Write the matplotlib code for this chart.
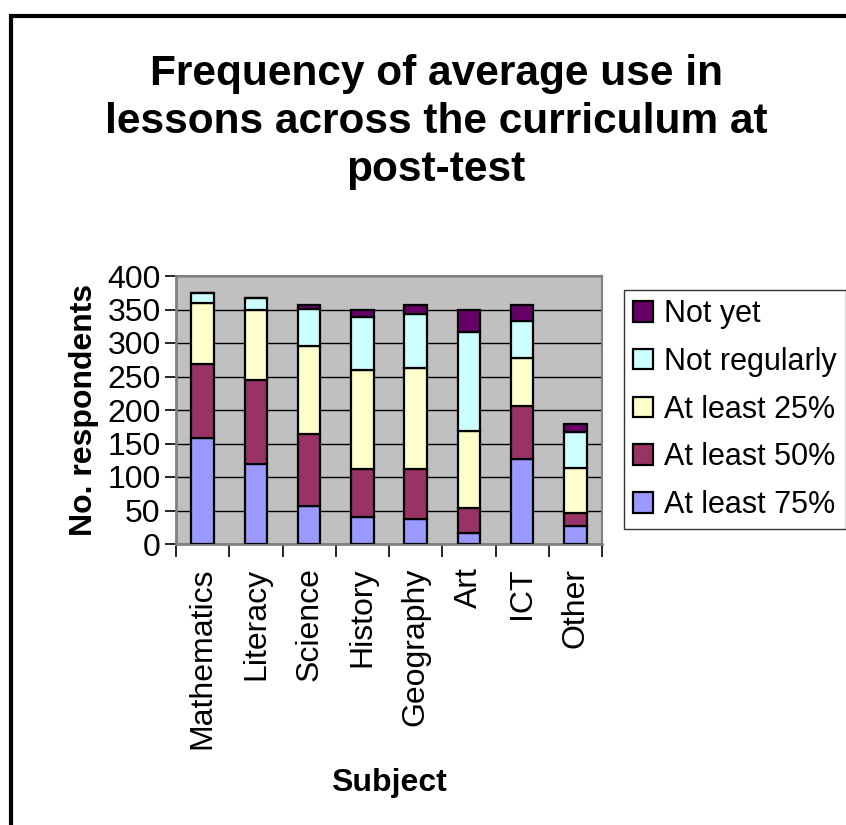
import numpy as np
import matplotlib
matplotlib.use("Agg")
import matplotlib.pyplot as plt
from matplotlib.patches import Rectangle

plt.rcParams['font.family'] = ['Liberation Sans', 'DejaVu Sans']

# datos (valores por segmento)
subjects = ['Mathematics', 'Literacy', 'Science', 'History', 'Geography', 'Art', 'ICT', 'Other']
least75 = [158, 119, 56, 41, 38, 17, 127, 27]
least50 = [110, 126, 108, 71, 74, 36, 79, 20]
least25 = [92, 104, 132, 148, 150, 116, 71, 66]
not_regularly = [14, 18, 55, 79, 81, 147, 56, 54]
not_yet = [0, 0, 5, 10, 13, 33, 23, 12]

series = [
    ('At least 75%', least75, '#9999FF'),
    ('At least 50%', least50, '#993366'),
    ('At least 25%', least25, '#FFFFCC'),
    ('Not regularly', not_regularly, '#CCFFFF'),
    ('Not yet', not_yet, '#660066'),
]

fig = plt.figure(figsize=(8.46, 8.25), dpi=100)
ax = fig.add_axes([176/846, 1-544/825, (602-176)/846, (544-276)/825])
ax.set_facecolor('#C0C0C0')

x = np.arange(len(subjects))
bottom = np.zeros(len(subjects))
handles = []
for name, vals, col in series:
    b = ax.bar(x, vals, width=0.42, bottom=bottom, color=col, edgecolor='black',
               linewidth=1.6, label=name, zorder=3)
    handles.append(b)
    bottom += np.array(vals)

ax.set_xlim(-0.5, len(subjects) - 0.5)
ax.set_ylim(0, 400)
ax.set_yticks(range(0, 401, 50))
ax.yaxis.grid(True, color='black', linewidth=1, zorder=1)
ax.set_axisbelow(True)

# ticks del eje x entre categorias, etiquetas centradas
ax.set_xticks(np.arange(-0.5, len(subjects), 1))
ax.set_xticklabels([])
ax.set_xticks(x, minor=True)
ax.set_xticklabels(subjects, minor=True, rotation=90, fontsize=23)
ax.tick_params(axis='x', which='minor', length=0, pad=17)
ax.tick_params(axis='x', which='major', length=9, width=1.2, direction='out')
ax.tick_params(axis='y', length=8, width=1.2, labelsize=23, pad=3)

for side in ['top', 'right']:
    ax.spines[side].set_color('#808080')
    ax.spines[side].set_linewidth(1.5)
for side in ['left', 'bottom']:
    ax.spines[side].set_color('#808080')
    ax.spines[side].set_linewidth(2)

ax.set_ylabel('No. respondents', fontsize=23, fontweight='bold', labelpad=6)
fig.text(389/846, 1-783/825, 'Subject', fontsize=23, fontweight='bold',
         ha='center', va='center')

fig.text(436/846, 1-122/825,
         'Frequency of average use in\nlessons across the curriculum at\npost-test',
         fontsize=30.5, fontweight='bold', ha='center', va='center', linespacing=1.27)

leg = fig.legend(handles[::-1], [s[0] for s in series][::-1],
                 loc='upper left', bbox_to_anchor=(624/846, 1-290/825),
                 fontsize=22, frameon=True, fancybox=False, edgecolor='black',
                 handlelength=0.65, handleheight=0.65, handletextpad=0.35,
                 labelspacing=0.58, borderpad=0.3, borderaxespad=0)
leg.get_frame().set_linewidth(1)

# borde del grafico (solo se ve arriba y a la izquierda)
fig.add_artist(Rectangle((11/846, -0.1), 1.2, 1-16/825+0.1, fill=False,
                         linewidth=3, edgecolor='black', transform=fig.transFigure))

fig.savefig('out.png', dpi=100)
